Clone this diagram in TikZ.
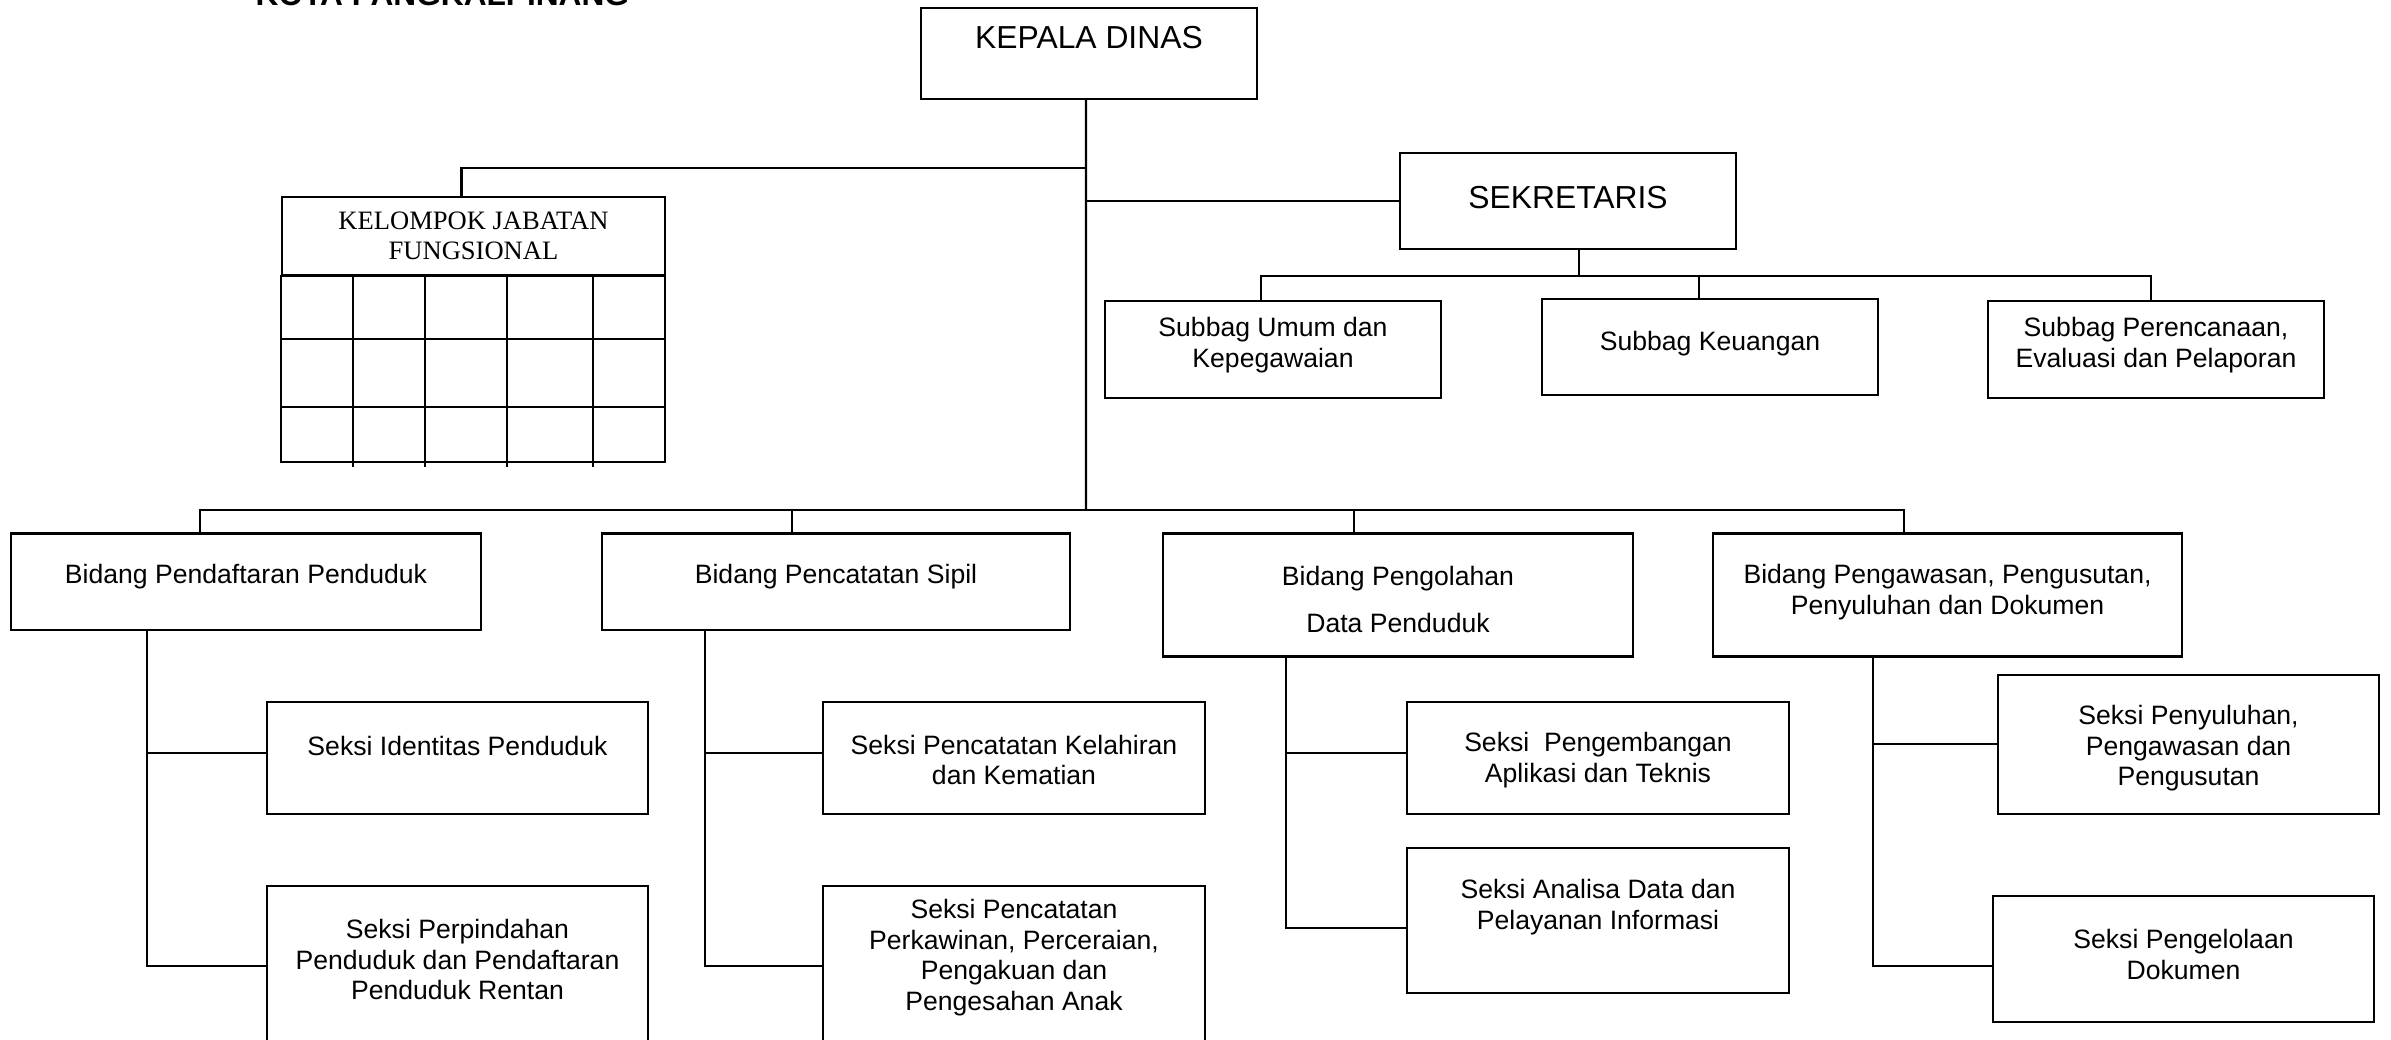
\documentclass[tikz,border=0pt]{standalone}
\usepackage{fontspec}
\setmainfont{Liberation Sans}
\newfontfamily\timesfont{Liberation Serif}
\usepackage{tikz}

\tikzset{
  kotak/.style={draw, line width=0.6pt, inner sep=0pt},
  teks/.style={align=center, inner sep=0pt, font=\fontsize{7.56}{8.7}\selectfont},
  teksbesar/.style={align=center, inner sep=0pt, font=\fontsize{9.05}{10}\selectfont},
  garis/.style={line width=0.6pt}
}

\begin{document}
\begin{tikzpicture}[x=0.01cm,y=-0.01cm]
		\useasboundingbox (0,0) rectangle (2391,1039);
		\node[anchor=base west, inner sep=0pt, font=\bfseries\fontsize{9}{10}\selectfont] (judul) at (255,5) {KOTA PANGKALPINANG};
		% pimpinan
		\node[kotak, minimum width=3.36cm, minimum height=0.91cm] (kadis) at (1089,53.5) {};
		\node[teksbesar] (kadis-t) at (1089,38) {KEPALA DINAS};
		\node[kotak, minimum width=3.36cm, minimum height=0.96cm] (sekre) at (1568,201) {};
		\node[teksbesar] (sekre-t) at (1568,198) {SEKRETARIS};
		% subbagian
		\node[kotak, minimum width=3.36cm, minimum height=0.97cm] (umum) at (1273,349.5) {};
		\node[teks] (umum-t) at (1273,345) {Subbag Umum dan\\Kepegawaian};
		\node[kotak, minimum width=3.36cm, minimum height=0.96cm] (keu) at (1710,347) {};
		\node[teks] (keu-t) at (1710,344) {Subbag Keuangan};
		\node[kotak, minimum width=3.36cm, minimum height=0.97cm] (renc) at (2156,349.5) {};
		\node[teks] (renc-t) at (2156,345) {Subbag Perencanaan,\\Evaluasi dan Pelaporan};
		% jabatan fungsional
		\node[kotak, minimum width=3.83cm, minimum height=0.78cm, align=center, font=\timesfont\fontsize{7.55}{8.6}\selectfont] (jabfung) at (473.5,236) {KELOMPOK JABATAN\\FUNGSIONAL};
		\draw[garis] (jabfung.south west) rectangle (665,462);
		\foreach \y in {339, 407}{
			\draw[garis] (282,\y) -- (665,\y);
		}
		\foreach \x in {353, 425, 507, 593}{
			\draw[garis] (\x,275) -- (\x,467);
		}
		% bidang
		\node[kotak, minimum width=4.70cm, minimum height=0.962cm] (pend) at (246,581.6) {};
		\node[teks] (pend-t) at (246,576.3) {Bidang Pendaftaran Penduduk};
		\node[kotak, minimum width=4.68cm, minimum height=0.962cm] (sipil) at (836,581.6) {};
		\node[teks] (sipil-t) at (836,576.3) {Bidang Pencatatan Sipil};
		\node[kotak, minimum width=4.70cm, minimum height=1.23cm] (olah) at (1398,595) {};
		\node[teks] (olah-t) at (1398,599.5) {Bidang Pengolahan\\[4.4pt]Data Penduduk};
		\node[kotak, minimum width=4.69cm, minimum height=1.23cm] (awas) at (1947.5,595) {};
		\node[teks] (awas-t) at (1947.5,592.3) {Bidang Pengawasan, Pengusutan,\\Penyuluhan dan Dokumen};
		% seksi
		\node[kotak, minimum width=3.81cm, minimum height=1.123cm] (identitas) at (457.5,757.85) {};
		\node[teks] (identitas-t) at (457.5,745.6) {Seksi Identitas Penduduk};
		\node[kotak, minimum width=3.81cm, minimum height=1.843cm] (pindah) at (457.5,977.85) {};
		\node[teks] (pindah-t) at (457.5,959.5) {Seksi Perpindahan\\Penduduk dan Pendaftaran\\Penduduk Rentan};
		\node[kotak, minimum width=3.82cm, minimum height=1.123cm] (lahir) at (1014,757.85) {};
		\node[teks] (lahir-t) at (1014,759.9) {Seksi Pencatatan Kelahiran\\dan Kematian};
		\node[kotak, minimum width=3.82cm, minimum height=1.843cm] (kawin) at (1014,977.85) {};
		\node[teks] (kawin-t) at (1014,957.7) {Seksi Pencatatan\\Perkawinan, Perceraian,\\Pengakuan dan\\Pengesahan Anak};
		\node[kotak, minimum width=3.82cm, minimum height=1.123cm] (kembang) at (1598,757.85) {};
		\node[teks] (kembang-t) at (1598,759.9) {Seksi~ Pengembangan\\Aplikasi dan Teknis};
		\node[kotak, minimum width=3.82cm, minimum height=1.447cm] (analisa) at (1598,920.25) {};
		\node[teks] (analisa-t) at (1598,906.9) {Seksi Analisa Data dan\\Pelayanan Informasi};
		\node[kotak, minimum width=3.81cm, minimum height=1.394cm] (suluh) at (2188.5,744.3) {};
		\node[teks] (suluh-t) at (2188.5,748.2) {Seksi Penyuluhan,\\Pengawasan dan\\Pengusutan};
		\node[kotak, minimum width=3.81cm, minimum height=1.262cm] (kelola) at (2183.5,958.8) {};
		\node[teks] (kelola-t) at (2183.5,954.2) {Seksi Pengelolaan\\Dokumen};
		% garis komando
		\coordinate (bus) at (1086,510);
		\draw[garis] ([xshift=-0.03cm]kadis.south) -- (bus);
		\draw[garis] (1086,168) -| ([xshift=-0.12cm]jabfung.north);
		\draw[garis] (1086,201) -- (sekre.west);
		\draw[garis] ([xshift=0.11cm]sekre.south) -- ++(0,26) coordinate (sbus);
		\draw[garis] ([xshift=-0.12cm]umum.north) |- (sbus);
		\draw[garis] ([xshift=-0.05cm]renc.north) |- (sbus);
		\draw[garis] ([xshift=-0.11cm]keu.north) -- ([xshift=-0.11cm]keu.north |- sbus);
		\draw[garis] ([xshift=-0.46cm]pend.north) |- (bus);
		\draw[garis] ([xshift=-0.44cm]sipil.north) |- (bus);
		\draw[garis] ([xshift=-0.44cm]olah.north) |- (bus);
		\draw[garis] ([xshift=-0.435cm]awas.north) |- (bus);
		% garis seksi
		\draw[garis] ([xshift=-0.99cm]pend.south) |- ([yshift=0.05cm]identitas.west);
		\draw[garis] ([xshift=-0.99cm]pend.south) |- ([yshift=0.1225cm]pindah.west);
		\draw[garis] ([xshift=-1.31cm]sipil.south) |- ([yshift=0.05cm]lahir.west);
		\draw[garis] ([xshift=-1.31cm]sipil.south) |- ([yshift=0.1225cm]kawin.west);
		\draw[garis] ([xshift=-1.12cm]olah.south) |- ([yshift=0.05cm]kembang.west);
		\draw[garis] ([xshift=-1.12cm]olah.south) |- ([yshift=-0.0785cm]analisa.west);
		\draw[garis] ([xshift=-0.745cm]awas.south) |- (suluh.west);
		\draw[garis] ([xshift=-0.745cm]awas.south) |- ([yshift=-0.068cm]kelola.west);
\end{tikzpicture}
\end{document}
